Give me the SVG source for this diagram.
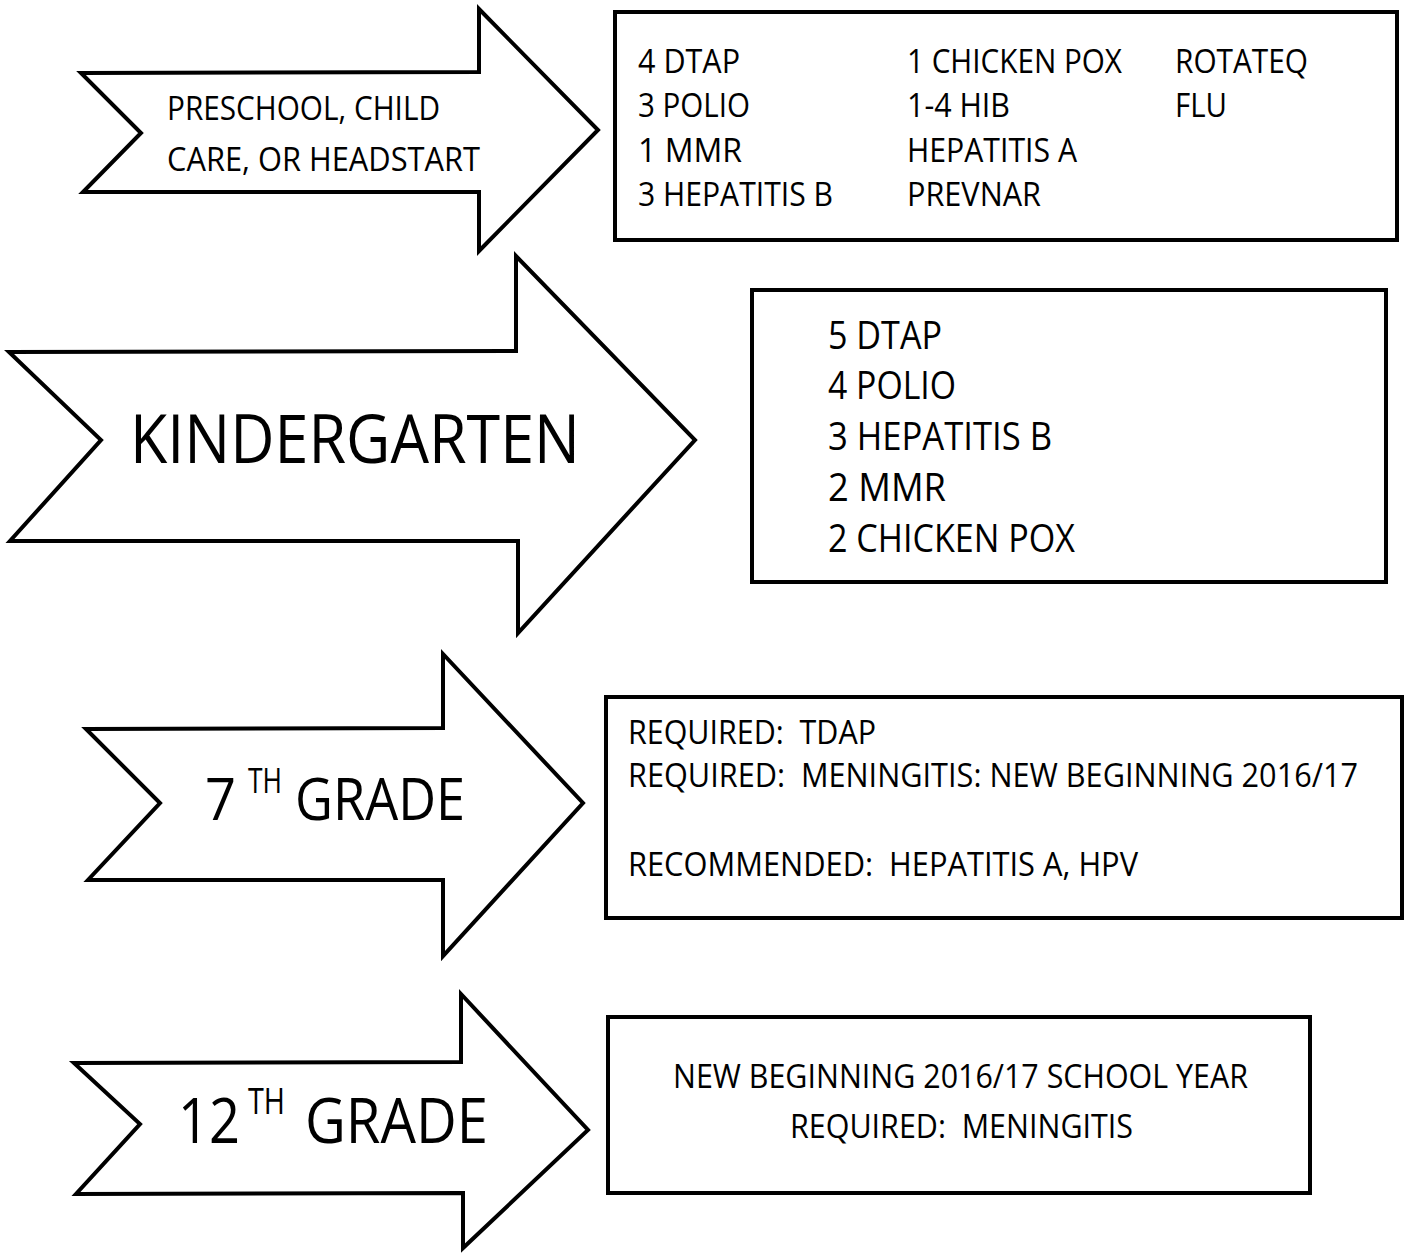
<svg xmlns="http://www.w3.org/2000/svg" width="1406" height="1253" viewBox="0 0 1406 1253">
<style>
.shape{fill:#fff;stroke:#000;stroke-width:4;stroke-linejoin:miter}
.t{font-family:"Open Sans","Noto Sans","Liberation Sans",sans-serif;fill:#000;white-space:pre}
.s34{font-size:33px}
.s40{font-size:39px}
</style>
<rect width="1406" height="1253" fill="#fff"/>
<g id="arrow-preschool">
<polygon class="shape" points="81,73 479,72 479,9 598,130 479,251 479,192 83,192 141,133"/>
<text class="t s34" x="167" y="120" textLength="273" lengthAdjust="spacingAndGlyphs">PRESCHOOL, CHILD</text>
<text class="t s34" x="167" y="171" textLength="313" lengthAdjust="spacingAndGlyphs">CARE, OR HEADSTART</text>
</g>
<g id="box-preschool">
<rect class="shape" x="615" y="12" width="782" height="228"/>
<text class="t s34" x="638" y="73" textLength="102" lengthAdjust="spacingAndGlyphs">4 DTAP</text>
<text class="t s34" x="638" y="117" textLength="112" lengthAdjust="spacingAndGlyphs">3 POLIO</text>
<text class="t s34" x="638" y="162" textLength="104" lengthAdjust="spacingAndGlyphs">1 MMR</text>
<text class="t s34" x="638" y="206" textLength="195" lengthAdjust="spacingAndGlyphs">3 HEPATITIS B</text>
<text class="t s34" x="907" y="73" textLength="215" lengthAdjust="spacingAndGlyphs">1 CHICKEN POX</text>
<text class="t s34" x="907" y="117" textLength="103" lengthAdjust="spacingAndGlyphs">1-4 HIB</text>
<text class="t s34" x="907" y="162" textLength="170" lengthAdjust="spacingAndGlyphs">HEPATITIS A</text>
<text class="t s34" x="907" y="206" textLength="134" lengthAdjust="spacingAndGlyphs">PREVNAR</text>
<text class="t s34" x="1175" y="73" textLength="133" lengthAdjust="spacingAndGlyphs">ROTATEQ</text>
<text class="t s34" x="1175" y="117" textLength="52" lengthAdjust="spacingAndGlyphs">FLU</text>
</g>
<g id="arrow-kindergarten">
<polygon class="shape" points="9,352 516,351 516,256 695,440 518,633 518,541 10,541 101,440"/>
<text class="t" style="font-size:68px" x="130" y="463" textLength="450" lengthAdjust="spacingAndGlyphs">KINDERGARTEN</text>
</g>
<g id="box-kindergarten">
<rect class="shape" x="752" y="290" width="634" height="292"/>
<text class="t s40" x="828" y="349" textLength="114" lengthAdjust="spacingAndGlyphs">5 DTAP</text>
<text class="t s40" x="828" y="399" textLength="128" lengthAdjust="spacingAndGlyphs">4 POLIO</text>
<text class="t s40" x="828" y="450" textLength="224" lengthAdjust="spacingAndGlyphs">3 HEPATITIS B</text>
<text class="t s40" x="828" y="501" textLength="118" lengthAdjust="spacingAndGlyphs">2 MMR</text>
<text class="t s40" x="828" y="552" textLength="247" lengthAdjust="spacingAndGlyphs">2 CHICKEN POX</text>
</g>
<g id="arrow-7th">
<polygon class="shape" points="86,729 443,728 443,654 583,803 443,956 443,880 88,880 160,803"/>
<text class="t" style="font-size:58px" x="205" y="820" textLength="31" lengthAdjust="spacingAndGlyphs">7</text>
<text class="t" style="font-size:34px" x="248" y="793" textLength="34" lengthAdjust="spacingAndGlyphs">TH</text>
<text class="t" style="font-size:58px" x="295" y="820" textLength="170" lengthAdjust="spacingAndGlyphs">GRADE</text>
</g>
<g id="box-7th">
<rect class="shape" x="606" y="697" width="796" height="221"/>
<text class="t s34" x="628" y="744" textLength="248" lengthAdjust="spacingAndGlyphs">REQUIRED:  TDAP</text>
<text class="t s34" x="628" y="787" textLength="730" lengthAdjust="spacingAndGlyphs">REQUIRED:  MENINGITIS: NEW BEGINNING 2016/17</text>
<text class="t s34" x="628" y="876" textLength="510" lengthAdjust="spacingAndGlyphs">RECOMMENDED:  HEPATITIS A, HPV</text>
</g>
<g id="arrow-12th">
<polygon class="shape" points="74,1063 461,1062 461,994 588,1130 463,1248 463,1193 76,1194 140,1124"/>
<text class="t" style="font-size:62px" x="178" y="1143" textLength="62" lengthAdjust="spacingAndGlyphs">12</text>
<text class="t" style="font-size:36px" x="248" y="1114" textLength="37" lengthAdjust="spacingAndGlyphs">TH</text>
<text class="t" style="font-size:62px" x="305" y="1143" textLength="183" lengthAdjust="spacingAndGlyphs">GRADE</text>
</g>
<g id="box-12th">
<rect class="shape" x="608" y="1017" width="702" height="176"/>
<text class="t s34" x="673" y="1088" textLength="575" lengthAdjust="spacingAndGlyphs">NEW BEGINNING 2016/17 SCHOOL YEAR</text>
<text class="t s34" x="790" y="1138" textLength="343" lengthAdjust="spacingAndGlyphs">REQUIRED:  MENINGITIS</text>
</g>
<g id="connectors"/>
</svg>
